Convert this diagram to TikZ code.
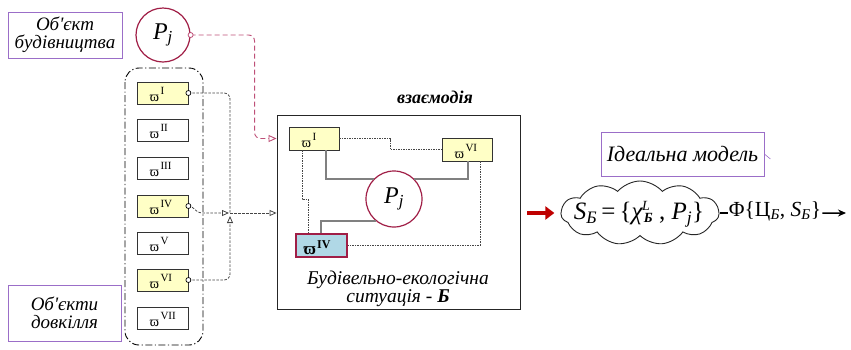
\RequirePackage{fix-cm}
\documentclass[tikz,border=0pt]{standalone}
\usepackage{fontspec}
\setmainfont{Liberation Serif}
\usetikzlibrary{arrows.meta,shapes.symbols,calc}
\definecolor{yfill}{RGB}{255,255,198}
\definecolor{bfill}{RGB}{176,216,230}
\definecolor{crim}{RGB}{160,30,70}
\definecolor{pinkl}{RGB}{190,80,120}
\definecolor{purp}{RGB}{155,110,200}
\definecolor{gline}{RGB}{128,128,128}
\definecolor{dgray}{RGB}{70,70,70}
\newcommand\omlab[1]{{\fontsize{14}{14}\selectfont ϖ}\hspace{1.5pt}\raisebox{6.5pt}{\fontsize{11}{11}\selectfont #1}}
\newcommand\obox[5]{%
  \node[sbox,#5] (#1) at (#2,#3) {};
  \node[anchor=base west, inner sep=0pt] (#1t) at ([xshift=13pt,yshift=3pt]#1.south west) {\omlab{#4}};
}
\begin{document}
\begin{tikzpicture}[x=1pt,y=-1pt,
  sbox/.style={draw=black!80, line width=0.8pt, minimum width=51pt, minimum height=22pt, inner sep=0pt},
  ybox/.style={fill=yfill},
  pbox/.style={draw=purp, line width=0.8pt, inner sep=0pt, align=center, font=\itshape},
  crc/.style={circle, draw=crim, line width=1.2pt, fill=white, inner sep=0pt},
  dl/.style={draw=dgray, line width=0.8pt, dash pattern=on 2.5pt off 1.5pt},
  thinl/.style={draw=dgray, line width=0.5pt, dash pattern=on 1.5pt off 1pt},
  gl/.style={draw=gline, line width=1.6pt},
  otri/.style={-{Triangle[open,length=7pt,width=6pt]}},
]
\useasboundingbox (0,0) rectangle (851,349);
% top-left
\node[pbox, minimum width=114pt, minimum height=46pt, font=\itshape\fontsize{19}{18}\selectfont] (ob) at (65,35) {Об\textquotesingle єкт\\будівництва};
\node[pbox, minimum width=113pt, minimum height=56pt, font=\itshape\fontsize{19}{18}\selectfont] (od) at (64.5,313) {Об\textquotesingle єкти\\довкілля};
\node[crc, minimum size=54pt, font=\fontsize{24}{24}\selectfont] (P0) at (163,35) {\textit{P}\textsubscript{\textit{j}}};
% left column
\draw[line width=0.9pt, rounded corners=14pt, dash pattern=on 7pt off 2.5pt on 1.2pt off 2.5pt] (125,68) rectangle (203,345);
\obox{w1}{162.5}{93}{I}{ybox}
\obox{w2}{162.5}{130}{II}{}
\obox{w3}{162.5}{168}{III}{}
\obox{w4}{162.5}{206}{IV}{ybox}
\obox{w5}{162.5}{243}{V}{}
\obox{w6}{162.5}{280}{VI}{ybox}
\obox{w7}{162.5}{318}{VII}{}
% main box
\node[draw=black!85, line width=0.9pt, minimum width=243pt, minimum height=194pt, inner sep=0pt] (M) at (398.5,212) {};
\node[font=\bfseries\itshape\fontsize{18}{18}\selectfont] (vz) at (435,97) {взаємодія};
\node[sbox, ybox, minimum width=50pt, minimum height=23pt] (I2) at (314,138.5) {};
\node[anchor=base west, inner sep=0pt] (I2t) at ([xshift=13pt,yshift=3pt]I2.south west) {\omlab{I}};
\node[sbox, ybox, minimum width=50pt, minimum height=23pt] (VI2) at (467,149.5) {};
\node[anchor=base west, inner sep=0pt] (VI2t) at ([xshift=13pt,yshift=3pt]VI2.south west) {\omlab{VI}};
\node[draw=crim, line width=2pt, fill=bfill, minimum width=51pt, minimum height=23pt, inner sep=0pt] (IV2) at (321,245) {};
% connectors inside
\draw[thinl] (I2.east) -- ++(51,0) |- (VI2.west);
\draw[thinl] ([xshift=-12pt]I2.south) -- ++(0,49) -| ([xshift=-13pt]IV2.north);
\draw[thinl] ([xshift=13pt]VI2.south) |- (IV2.east);
\node[crc, minimum size=56pt, font=\fontsize{24}{24}\selectfont] (C) at (394,199) {\textit{P}\textsubscript{\textit{j}}};
\draw[gl] ([xshift=12pt]I2.south) |- (C.135);
\draw[gl] (C.45) -| ([xshift=1pt]VI2.south);
\draw[gl] (C.230) -| (IV2.north);
\node[anchor=base west, inner sep=0pt, font=\bfseries] (IV2t) at ([xshift=9pt,yshift=3pt]IV2.south west) {{\fontsize{17}{17}\selectfont ϖ}\hspace{1pt}\raisebox{6.5pt}{\fontsize{12}{12}\selectfont IV}};
\node[font=\itshape\fontsize{19.5}{18.5}\selectfont, align=center] (bt) at (398,289) {Будівельно-екологічна\\ситуація - \textbf{Б}};
% left column connectors
\coordinate (J) at (230,213);
\draw[dl, rounded corners=6pt] (w1.east) -| (J);
\draw[dl, rounded corners=6pt, otri] (w6.east) -| ([yshift=-3pt]J);
\draw[dl, otri] (w4.east) to[out=0,in=180] ++(13,7) -- ([xshift=-1pt]J);
\draw[dl, otri] (J) -- (J -| M.west);
\foreach \n in {w1,w4,w6}{\draw[line width=0.7pt, fill=white] (\n.east) circle (2.5pt);}
% Pj dashed
\draw[draw=pinkl, line width=0.9pt, dash pattern=on 5pt off 3pt, rounded corners=6pt, -{Triangle[open,length=8pt,width=7pt]}] (P0.east) -| ($(M.west |- I2.west)+(-22,0)$) -- (M.west |- I2.west);
\draw[draw=pinkl, line width=0.8pt, fill=white] (P0.east) circle (2.5pt);
% right side
\node[pbox, minimum width=163pt, minimum height=44pt, font=\itshape\fontsize{22}{22}\selectfont] (im) at (682.5,154) {Ідеальна модель};
\draw[purp, line width=0.6pt] (im.east) -- ++(6,5);
\node[cloud, cloud puffs=11, cloud puff arc=100, aspect=2.8, draw=black!85, line width=0.9pt, fill=white, minimum width=158pt, minimum height=64pt, inner sep=0pt] (cl) at (640,213) {};
\node[font=\fontsize{25}{25}\selectfont, inner sep=0pt] (clt) at (639,214)
 {\textit{S}\textsubscript{\textit{Б}}\,=\,\{\textit{χ}\hspace{-1pt}\raisebox{9pt}{\fontsize{14}{14}\selectfont\textit{L}}\hspace{-6pt}\raisebox{-3pt}{\fontsize{14}{14}\selectfont\textbf{\textit{Б}}} , \textit{P}\textsubscript{\textit{j}}\}};
\draw[draw=red!75!black, line width=4pt, -{Triangle[length=9pt,width=13pt]}] ([xshift=7pt]M.east |- cl.west) -- ([xshift=-6pt]cl.west);
\node[font=\fontsize{21.5}{21.5}\selectfont, inner sep=1pt] (F) at (775,211) {Φ\{Ц\textsubscript{\textit{Б}}, \textit{S}\textsubscript{\textit{Б}}\}};
\draw[line width=1.5pt] (cl.east) -- (cl.east -| F.west);
\coordinate (end) at (846,213);
\draw[line width=1.5pt, -{Stealth[length=8pt,width=7pt]}] (cl.east -| F.east) -- (end);
\end{tikzpicture}
\end{document}
